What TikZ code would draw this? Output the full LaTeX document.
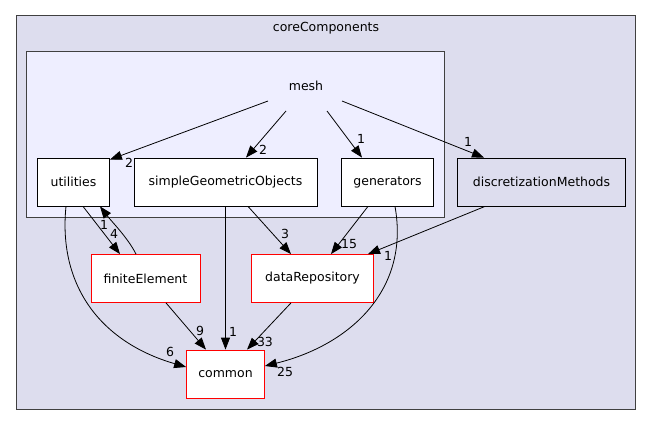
\documentclass[tikz,border=0pt]{standalone}
\usepackage{fontspec}
\setmainfont{DejaVu Sans}
\usetikzlibrary{arrows.meta,calc}
\definecolor{outerfill}{HTML}{DDDDEE}
\definecolor{meshfill}{HTML}{EEEEFF}
\definecolor{frame}{HTML}{404040}
\begin{document}
\begin{tikzpicture}[x=1pt,y=-1pt,
  every node/.style={font=\fontsize{12.5}{14}\selectfont, inner sep=0pt},
  dirbox/.style={draw=black, fill=white, minimum height=48pt, line width=0.8pt},
  redbox/.style={draw=red, fill=white, minimum height=48pt, line width=0.8pt},
  edge/.style={draw=black, line width=0.8pt, -{Triangle[length=12pt,width=9pt]}},
  lbl/.style={font=\fontsize{12.5}{14}\selectfont}]
\useasboundingbox (0,0) rectangle (651,425);
% clusters
\draw[frame, fill=outerfill, line width=1pt] (16,16) rectangle (635,409);
\node (core) at (326,28) {coreComponents};
\draw[frame, fill=meshfill, line width=1pt] (26,52) rectangle (444,217);
\node (meshlbl) at (306,86) {mesh};
% nodes
\node[dirbox, minimum width=72pt] (util) at (73.5,182) {utilities};
\node[dirbox, minimum width=183pt] (sgo) at (225.5,182) {simpleGeometricObjects};
\node[dirbox, minimum width=92pt] (gen) at (387.5,182) {generators};
\node[dirbox, fill=outerfill, minimum width=168pt] (disc) at (541.5,182) {discretizationMethods};
\node[redbox, minimum width=109pt] (fe) at (145.5,278.5) {finiteElement};
\node[redbox, minimum width=122pt] (dr) at (312.5,278.5) {dataRepository};
\node[redbox, minimum width=78pt] (common) at (225.5,374) {common};
% edges from mesh
\draw[edge] ([xshift=-38pt,yshift=-15pt]meshlbl.center) -- ([yshift=-2pt]util.north east);
\draw[edge] ([xshift=-20pt,yshift=-25pt]meshlbl.center) -- ([xshift=20.5pt]sgo.north);
\draw[edge] ([xshift=21pt,yshift=-25pt]meshlbl.center) -- ([xshift=-25.5pt]gen.north);
\draw[edge] ([xshift=36pt,yshift=-15pt]meshlbl.center) -- ([xshift=-57.5pt]disc.north);
\node[lbl] (l1) at (129,163) {2};
\node[lbl] (l2) at (263,150) {2};
\node[lbl] (l3) at (361,139) {1};
\node[lbl] (l4) at (468,142) {1};
% other edges
\draw[edge] ([xshift=9.5pt]util.south) -- ([xshift=-25.5pt]fe.north);
\draw[edge] ([xshift=-9.5pt]fe.north) .. controls (128,238) and (112,222) .. ([xshift=26.5pt]util.south);
\draw[edge] ([xshift=-7.5pt]util.south) .. controls (58,285) and (100,342) .. ([yshift=7pt]common.west);
\draw[edge] (sgo.south) -- (common.north);
\draw[edge] ([xshift=22.5pt]sgo.south) -- ([xshift=-21.5pt]dr.north);
\draw[edge] ([xshift=-19.5pt]gen.south) -- ([xshift=18.5pt]dr.north);
\draw[edge] ([xshift=7.5pt]gen.south) .. controls (410,290) and (350,345) .. ([yshift=8pt]common.east);
\draw[edge] ([xshift=-56.5pt]disc.south) -- ([xshift=55.5pt]dr.north);
\draw[edge] ([xshift=20.5pt]fe.south) -- ([xshift=-19.5pt]common.north);
\draw[edge] ([xshift=-21.5pt]dr.south) -- ([xshift=21.5pt]common.north);
\node[lbl] (l5) at (114,234) {4};
\node[lbl] (l6) at (104,225) {1};
\node[lbl] (l7) at (170,352) {6};
\node[lbl] (l8) at (233,332) {1};
\node[lbl] (l9) at (285,234) {3};
\node[lbl] (l10) at (349,244) {15};
\node[lbl] (l11) at (285,372) {25};
\node[lbl] (l12) at (388,256) {1};
\node[lbl] (l13) at (200,331) {9};
\node[lbl] (l14) at (265,342) {33};
\end{tikzpicture}
\end{document}
